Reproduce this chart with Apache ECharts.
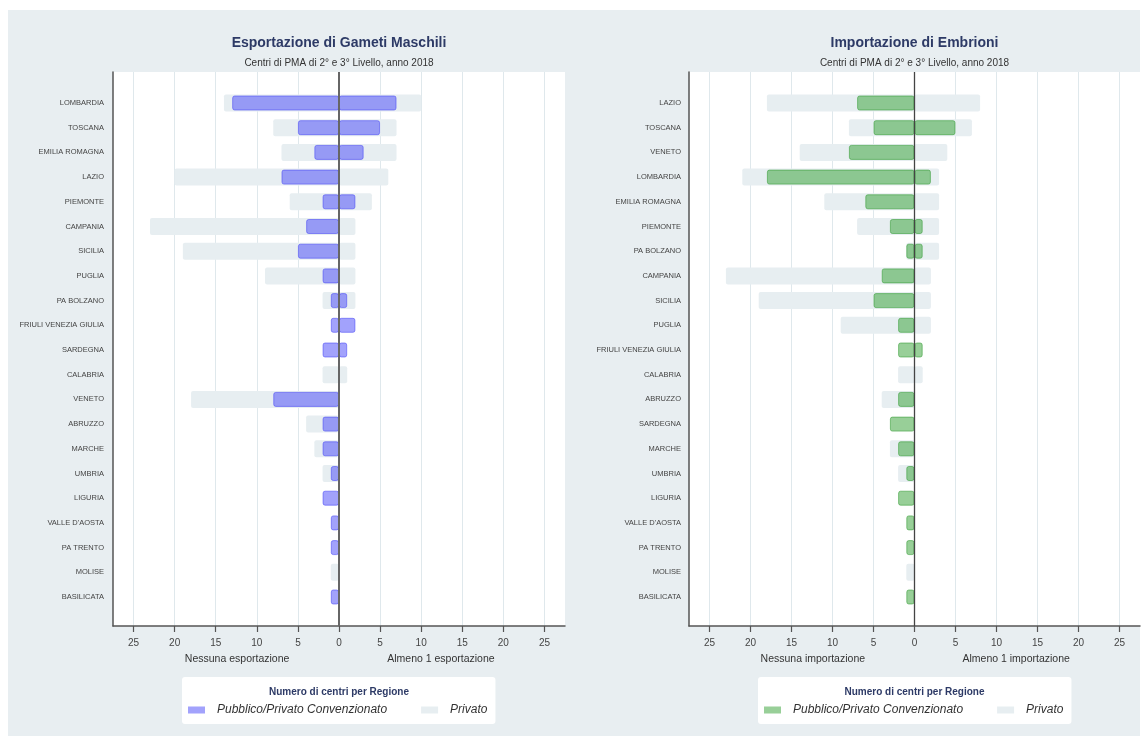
<!DOCTYPE html>
<html>
<head>
<meta charset="utf-8">
<title>PMA 2018</title>
<script src="https://cdn.jsdelivr.net/npm/echarts@6/dist/echarts.min.js"></script>
<style>
body{margin:0;background:#fff;}
#panel{position:absolute;left:8px;top:10px;width:1132px;height:726px;background:#e8eef1;}
#chartExp{position:absolute;left:0;top:0;width:577px;height:744px;}
#chartImp{position:absolute;left:577px;top:0;width:568px;height:744px;}
</style>
</head>
<body>
<div id="panel"></div>
<div id="chartExp"></div>
<div id="chartImp"></div>
<script>
// tick labels of the x axis (both sides shown as absolute values)
const tickVals = [-25, -20, -15, -10, -5, 0, 5, 10, 15, 20, 25];

// Esportazione di Gameti Maschili
const catsExp = ['LOMBARDIA', 'TOSCANA', 'EMILIA ROMAGNA', 'LAZIO', 'PIEMONTE', 'CAMPANIA', 'SICILIA', 'PUGLIA',
  'PA BOLZANO', 'FRIULI VENEZIA GIULIA', 'SARDEGNA', 'CALABRIA', 'VENETO', 'ABRUZZO', 'MARCHE', 'UMBRIA',
  'LIGURIA', "VALLE D'AOSTA", 'PA TRENTO', 'MOLISE', 'BASILICATA'];
const expPubNo   = [13, 5, 3, 7, 2, 4, 5, 2, 1, 1, 2, 0, 8, 2, 2, 1, 2, 1, 1, 0, 1];
const expPubYes  = [7, 5, 3, 0, 2, 0, 0, 0, 1, 2, 1, 0, 0, 0, 0, 0, 0, 0, 0, 0, 0];
const expPrivNo  = [14, 8, 7, 20, 6, 23, 19, 9, 2, 0, 0, 2, 18, 4, 3, 2, 0, 0, 0, 1, 0];
const expPrivYes = [10, 7, 7, 6, 4, 2, 2, 2, 2, 0, 0, 1, 0, 0, 0, 0, 0, 0, 0, 0, 0];

// Importazione di Embrioni
const catsImp = ['LAZIO', 'TOSCANA', 'VENETO', 'LOMBARDIA', 'EMILIA ROMAGNA', 'PIEMONTE', 'PA BOLZANO', 'CAMPANIA',
  'SICILIA', 'PUGLIA', 'FRIULI VENEZIA GIULIA', 'CALABRIA', 'ABRUZZO', 'SARDEGNA', 'MARCHE', 'UMBRIA',
  'LIGURIA', "VALLE D'AOSTA", 'PA TRENTO', 'MOLISE', 'BASILICATA'];
const impPubNo   = [7, 5, 8, 18, 6, 3, 1, 4, 5, 2, 2, 0, 2, 3, 2, 1, 2, 1, 1, 0, 1];
const impPubYes  = [0, 5, 0, 2, 0, 1, 1, 0, 0, 0, 1, 0, 0, 0, 0, 0, 0, 0, 0, 0, 0];
const impPrivNo  = [18, 8, 14, 21, 11, 7, 1, 23, 19, 9, 0, 2, 4, 0, 3, 2, 0, 0, 0, 1, 0];
const impPrivYes = [8, 7, 4, 3, 3, 3, 3, 2, 2, 2, 0, 1, 0, 0, 0, 0, 0, 0, 0, 0, 0];

const PUB = 'Pubblico/Privato Convenzionato';
const PRIV = 'Privato';
const FONT = 'Liberation Sans, Arial, sans-serif';

function buildOption(cfg) {
  const neg = a => a.map(v => v ? -v : '-');
  const pos = a => a.map(v => v ? v : '-');
  const cx = cfg.left + cfg.width / 2;  // centro del riquadro
  const unit = cfg.width / 55;
  const txt = (text, x, y, st) => ({
    type: 'text', x: x, y: y, z: 100, silent: true,
    style: Object.assign({text: text, align: 'center', verticalAlign: 'middle', fontFamily: FONT}, st)
  });
  const privStyle = {color: '#e7eef1', borderRadius: 2};
  const pubStyle = {color: cfg.pubColor, borderColor: cfg.pubBorder, borderWidth: 1, borderRadius: 2};
  return {
    animation: false,
    textStyle: {fontFamily: FONT},
    grid: [
      {left: cfg.left, top: 72, width: cfg.width, height: 554, show: true, backgroundColor: '#fff', borderWidth: 0},
      {left: cfg.left, top: 90.65, width: cfg.width, height: 518.7}
    ],
    xAxis: [
      {
        gridIndex: 0, type: 'value', min: -27.5, max: 27.5,
        axisLine: {show: true, onZero: false, lineStyle: {color: '#555', width: 1.5}},
        axisTick: {show: true, length: 6, customValues: tickVals, lineStyle: {color: '#555', width: 1.2}},
        axisLabel: {customValues: tickVals, formatter: v => String(Math.abs(v)), color: '#444', fontSize: 10, margin: 12},
        splitLine: {show: true, lineStyle: {color: '#dfe8ec', width: 1}}
      },
      {gridIndex: 1, type: 'value', min: -27.5, max: 27.5, show: false}
    ],
    yAxis: [
      {
        gridIndex: 0, type: 'value', min: 0, max: 1,
        axisLine: {show: true, onZero: false, lineStyle: {color: '#555', width: 1.5}},
        axisTick: {show: false}, axisLabel: {show: false}, splitLine: {show: false}
      },
      {
        gridIndex: 1, type: 'category', data: cfg.cats, inverse: true,
        axisLine: {show: false}, axisTick: {show: false},
        axisLabel: {color: '#444', fontSize: 7.5, margin: cfg.labelMargin, interval: 0}
      },
      {gridIndex: 1, type: 'category', data: cfg.cats, inverse: true, show: false, position: 'left'}
    ],
    legend: {
      data: [PUB, PRIV], left: cfg.left + 69, top: 677, orient: 'horizontal',
      backgroundColor: '#fff', borderRadius: 3, padding: [27, 8, 8, 6],
      itemWidth: 17, itemHeight: 7, itemGap: 34, selectedMode: false,
      icon: 'rect', itemStyle: {borderWidth: 0},
      textStyle: {fontStyle: 'italic', fontSize: 12, color: '#333', padding: [0, 0, 0, 7]}
    },
    graphic: [
      txt(cfg.title, cx, 43, {fontSize: 14, fontWeight: 'bold', fill: '#2d3a66'}),
      txt('Centri di PMA di 2° e 3° Livello, anno 2018', cx, 63, {fontSize: 10, fill: '#333'}),
      txt(cfg.noLabel, cx - 12.4 * unit, 659, {fontSize: 10.5, fill: '#333'}),
      txt(cfg.yesLabel, cx + 12.4 * unit, 659, {fontSize: 10.5, fill: '#333'}),
      txt('Numero di centri per Regione', cx, 692, {fontSize: 10, fontWeight: 'bold', fill: '#2d3a66'})
    ],
    series: [
      {
        name: PRIV, type: 'bar', xAxisIndex: 1, yAxisIndex: 1, stack: 'priv', barWidth: 17, z: 1,
        data: neg(cfg.privNo), itemStyle: privStyle, silent: true
      },
      {
        name: PRIV, type: 'bar', xAxisIndex: 1, yAxisIndex: 1, stack: 'priv', barWidth: 17, z: 1,
        data: pos(cfg.privYes), itemStyle: privStyle, silent: true
      },
      {
        // linea dello zero
        type: 'line', xAxisIndex: 0, yAxisIndex: 0, data: [], z: 2, silent: true,
        markLine: {
          silent: true, symbol: 'none', label: {show: false},
          lineStyle: {color: cfg.zeroColor, width: cfg.zeroWidth, type: 'solid'},
          data: [{xAxis: 0}]
        }
      },
      {
        name: PUB, type: 'bar', xAxisIndex: 1, yAxisIndex: 2, stack: 'pub', barWidth: 15, z: 3,
        data: neg(cfg.pubNo), itemStyle: pubStyle, silent: true
      },
      {
        name: PUB, type: 'bar', xAxisIndex: 1, yAxisIndex: 2, stack: 'pub', barWidth: 15, z: 3,
        data: pos(cfg.pubYes), itemStyle: pubStyle, silent: true
      }
    ]
  };
}

const chartExp = echarts.init(document.getElementById('chartExp'));
chartExp.setOption(buildOption({
  title: 'Esportazione di Gameti Maschili',
  noLabel: 'Nessuna esportazione', yesLabel: 'Almeno 1 esportazione',
  cats: catsExp, pubNo: expPubNo, pubYes: expPubYes, privNo: expPrivNo, privYes: expPrivYes,
  left: 113, width: 452, labelMargin: 9,
  pubColor: 'rgba(70,70,250,0.5)', pubBorder: 'rgba(70,70,245,0.55)',
  zeroColor: '#666', zeroWidth: 2
}));

const chartImp = echarts.init(document.getElementById('chartImp'));
chartImp.setOption(buildOption({
  title: 'Importazione di Embrioni',
  noLabel: 'Nessuna importazione', yesLabel: 'Almeno 1 importazione',
  cats: catsImp, pubNo: impPubNo, pubYes: impPubYes, privNo: impPrivNo, privYes: impPrivYes,
  left: 112, width: 451, labelMargin: 8,
  pubColor: 'rgba(50,160,50,0.5)', pubBorder: 'rgba(50,155,50,0.55)',
  zeroColor: '#444', zeroWidth: 1.3
}));
</script>
</body>
</html>
